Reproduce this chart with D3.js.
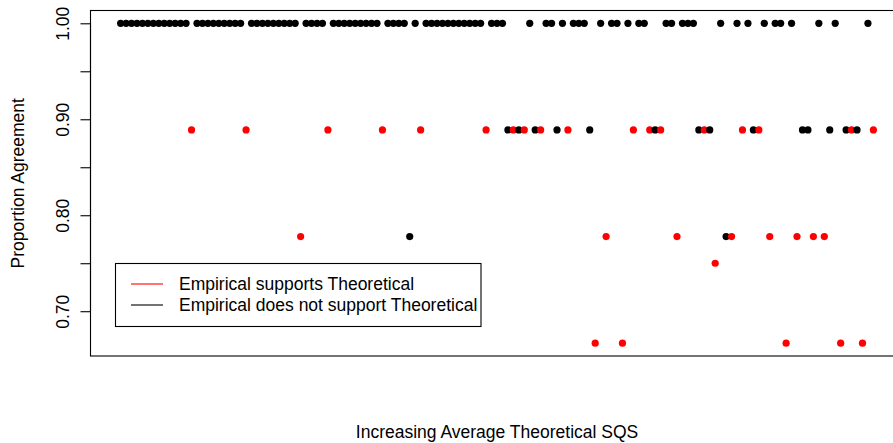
<!DOCTYPE html>
<html>
<head>
<meta charset="utf-8">
<script src="https://cdn.jsdelivr.net/npm/d3@7"></script>
<style>
  html, body { margin: 0; padding: 0; background: #fff; }
  svg { display: block; }
  text { font-family: "Liberation Sans", Arial, sans-serif; fill: #000; }
</style>
</head>
<body>
<svg id="chart" width="893" height="443"></svg>
<script>
// Proportion agreement for each item, in order of increasing average theoretical SQS.
// status: "S" = empirical supports theoretical (red), "N" = does not support (black).
const nonUnanimous = [
  // [rank, agreement, status]
  [14, 8/9, "S"], [24, 8/9, "S"], [34, 7/9, "S"], [39, 8/9, "S"], [49, 8/9, "S"],
  [54, 7/9, "N"], [56, 8/9, "S"], [68, 8/9, "S"], [72, 8/9, "N"], [73, 8/9, "S"],
  [74, 8/9, "N"], [75, 8/9, "S"], [77, 8/9, "N"], [78, 8/9, "S"], [81, 8/9, "N"],
  [83, 8/9, "S"], [87, 8/9, "N"], [88, 6/9, "S"], [90, 7/9, "S"], [93, 6/9, "S"],
  [95, 8/9, "S"], [98, 8/9, "S"], [99, 8/9, "N"], [100, 8/9, "S"], [103, 7/9, "S"],
  [107, 8/9, "N"], [108, 8/9, "S"], [109, 8/9, "N"], [110, 6/8, "S"], [112, 7/9, "N"],
  [113, 7/9, "S"], [115, 8/9, "S"], [117, 8/9, "N"], [118, 8/9, "S"], [120, 7/9, "S"],
  [123, 6/9, "S"], [125, 7/9, "S"], [126, 8/9, "N"], [127, 8/9, "N"], [128, 7/9, "S"],
  [130, 7/9, "S"], [131, 8/9, "N"], [133, 6/9, "S"], [134, 8/9, "N"], [135, 8/9, "S"],
  [136, 8/9, "N"], [137, 6/9, "S"], [139, 8/9, "S"]
];
const itemCount = 139;          // every other item has full agreement (1.00), not supported
const yTicks = [0.70, 0.75, 0.80, 0.85, 0.90, 0.95, 1.00];
const yTickLabels = ["0.70", "", "0.80", "", "0.90", "", "1.00"];
const legendLabels = ["Empirical supports Theoretical", "Empirical does not support Theoretical"];
const statusColor = { S: "#ff0000", N: "#000000" };

// build the full series, one point per rank
const lookup = new Map(nonUnanimous.map(d => [d[0], d]));
const points = d3.range(1, itemCount + 1).map(r => {
  const d = lookup.get(r);
  return d ? { rank: r, value: d[1], status: d[2] } : { rank: r, value: 1.0, status: "N" };
});

const svg = d3.select("#chart");
const plot = { left: 90.5, top: 10.5, bottom: 356, right: 903.5 };

// R-style 4% padding around the data range
const xExt = d3.extent(points, d => d.rank);
const xPad = (xExt[1] - xExt[0]) * 0.04;
const yExt = d3.extent(points, d => d.value);
const yPad = (yExt[1] - yExt[0]) * 0.04;

const x = d3.scaleLinear().domain([xExt[0] - xPad, xExt[1] + xPad]).range([plot.left, plot.right]);
const y = d3.scaleLinear().domain([yExt[0] - yPad, yExt[1] + yPad]).range([plot.bottom, plot.top]);

// plot frame
svg.append("rect")
  .attr("x", plot.left).attr("y", plot.top)
  .attr("width", plot.right - plot.left).attr("height", plot.bottom - plot.top)
  .attr("fill", "none").attr("stroke", "#000").attr("stroke-width", 1.1);

// y axis with rotated labels
const yAxis = d3.axisLeft(y).tickValues(yTicks).tickSize(10).tickPadding(6)
  .tickFormat((d, i) => yTickLabels[i]);
const gy = svg.append("g").attr("transform", `translate(${plot.left},0)`).call(yAxis);
gy.select(".domain").attr("d", `M-0,${y(yTicks[0])}V${y(yTicks[yTicks.length - 1])}`)
  .attr("stroke", "#000").attr("stroke-width", 1.1);
gy.selectAll(".tick line").attr("stroke", "#000").attr("stroke-width", 1.1);
gy.selectAll(".tick text")
  .attr("font-size", 17.5)
  .attr("font-family", "'Liberation Sans', Arial, sans-serif")
  .attr("transform", "rotate(-90)")
  .attr("x", 0).attr("y", -22)
  .attr("dy", 0)
  .attr("text-anchor", "middle")
  .attr("dominant-baseline", "auto");

// points
svg.append("g").selectAll("circle")
  .data(points)
  .join("circle")
  .attr("cx", d => x(d.rank))
  .attr("cy", d => y(d.value))
  .attr("r", 3.6)
  .attr("fill", d => statusColor[d.status]);

// axis titles
svg.append("text")
  .attr("x", (plot.left + plot.right) / 2).attr("y", 438)
  .attr("text-anchor", "middle").attr("font-size", 17.5)
  .text("Increasing Average Theoretical SQS");
svg.append("text")
  .attr("transform", `translate(24,${(plot.top + plot.bottom) / 2}) rotate(-90)`)
  .attr("text-anchor", "middle").attr("font-size", 17.5)
  .text("Proportion Agreement");

// legend
const legend = svg.append("g");
legend.append("rect")
  .attr("x", 115.5).attr("y", 263.5).attr("width", 365.5).attr("height", 63)
  .attr("fill", "#fff").attr("stroke", "#000").attr("stroke-width", 1.1);
legendLabels.forEach((label, i) => {
  const ly = 284 + i * 21;
  legend.append("line")
    .attr("x1", 131).attr("x2", 163).attr("y1", ly).attr("y2", ly)
    .attr("stroke", i === 0 ? statusColor.S : statusColor.N).attr("stroke-width", 1.1);
  legend.append("text")
    .attr("x", 179).attr("y", ly + 6)
    .attr("font-size", 17.5)
    .text(label);
});
</script>
</body>
</html>
